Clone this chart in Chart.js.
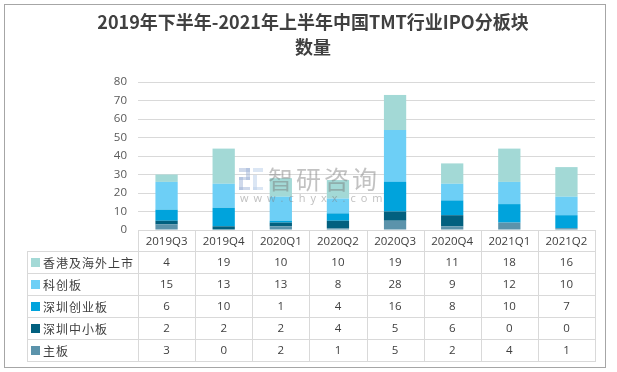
<!DOCTYPE html>
<html>
<head>
<meta charset="utf-8">
<script src="https://cdn.jsdelivr.net/npm/chart.js@4.4.1/dist/chart.umd.min.js"></script>
<style>
  html, body { margin: 0; padding: 0; background: #fff; }
  #wrap { width: 617px; height: 372px; }
</style>
</head>
<body>
<div id="wrap"><canvas id="ipoChart" width="617" height="372"></canvas></div>
<script>
  // data
  var quarters = ['2019Q3', '2019Q4', '2020Q1', '2020Q2', '2020Q3', '2020Q4', '2021Q1', '2021Q2'];
  var hkOverseas = [4, 19, 10, 10, 19, 11, 18, 16];   // 香港及海外上市
  var starMarket = [15, 13, 13, 8, 28, 9, 12, 10];    // 科创板
  var chinext = [6, 10, 1, 4, 16, 8, 10, 7];          // 深圳创业板
  var smeBoard = [2, 2, 2, 4, 5, 6, 0, 0];            // 深圳中小板
  var mainBoard = [3, 0, 2, 1, 5, 2, 4, 1];           // 主板
  var yTicks = [0, 10, 20, 30, 40, 50, 60, 70, 80];
  var titleLines = ['2019年下半年-2021年上半年中国TMT行业IPO分板块', '数量'];

  var cjk = '"Noto Sans CJK SC", sans-serif';
  var num = '"Open Sans", "Noto Sans CJK SC", sans-serif';

  // frame, title, data table and watermark
  var decorPlugin = {
    id: 'decor',
    beforeDraw: function (chart) {
      var ctx = chart.ctx;
      ctx.save();
      ctx.fillStyle = '#ffffff';
      ctx.fillRect(0, 0, chart.width, chart.height);
      ctx.strokeStyle = '#a6a6a6';
      ctx.lineWidth = 1;
      ctx.strokeRect(4.5, 4.5, 601, 363);
      ctx.restore();
    },
    afterDatasetsDraw: function (chart) {
      var ctx = chart.ctx;
      ctx.save();
      // logo block
      ctx.fillStyle = 'rgba(160,180,215,0.5)';
      ctx.fillRect(239, 168, 11, 4);
      ctx.fillRect(246, 168, 4, 12);
      ctx.fillRect(239, 177, 11, 3);
      ctx.fillRect(239, 177, 4, 13);
      ctx.fillRect(239, 187, 11, 3);
      ctx.fillStyle = 'rgba(190,210,235,0.55)';
      ctx.fillRect(253, 168, 10, 4);
      ctx.fillRect(253, 175, 4, 15);
      ctx.fillRect(253, 187, 10, 3);
      // watermark text
      ctx.fillStyle = 'rgba(120,120,120,0.45)';
      ctx.font = '25px ' + cjk;
      ctx.textBaseline = 'middle';
      ctx.textAlign = 'left';
      ctx.letterSpacing = '3px';
      ctx.fillText('智研咨询', 268, 179);
      ctx.font = '11px ' + num;
      ctx.letterSpacing = '5px';
      ctx.fillStyle = 'rgba(130,130,130,0.5)';
      ctx.fillText('www.chyxx.com', 240, 199);
      ctx.restore();
    },
    afterDraw: function (chart) {
      var ctx = chart.ctx;
      var area = chart.chartArea;
      var colW = (area.right - area.left) / quarters.length;
      var top = Math.round(area.bottom);
      var headH = 21, rowH = 22, legendLeft = 27;
      var bottom = top + headH + rowH * 5;
      ctx.save();

      // title
      ctx.fillStyle = '#404040';
      ctx.font = 'bold 18px ' + cjk;
      ctx.textAlign = 'center';
      ctx.textBaseline = 'middle';
      ctx.fillText(titleLines[0], 313, 22);
      ctx.fillText(titleLines[1], 313, 47);

      // table grid
      ctx.strokeStyle = '#d9d9d9';
      ctx.lineWidth = 1;
      ctx.beginPath();
      ctx.moveTo(area.left, top + 0.5);
      ctx.lineTo(area.right, top + 0.5);
      for (var r = 0; r <= 5; r++) {
        var y = top + headH + r * rowH + 0.5;
        ctx.moveTo(legendLeft, y);
        ctx.lineTo(area.right, y);
      }
      for (var i = 0; i <= quarters.length; i++) {
        var x = Math.round(area.left + i * colW) + 0.5;
        ctx.moveTo(x, top);
        ctx.lineTo(x, bottom + 1);
      }
      ctx.moveTo(legendLeft + 0.5, top + headH);
      ctx.lineTo(legendLeft + 0.5, bottom + 1);
      ctx.stroke();

      // header row
      var xs = chart.scales.x;
      ctx.fillStyle = '#404040';
      ctx.font = '11.5px ' + num;
      ctx.textAlign = 'center';
      quarters.forEach(function (q, i) {
        ctx.fillText(q, xs.getPixelForValue(i), top + headH / 2 + 1);
      });

      // body rows: top series first
      var rows = chart.data.datasets.slice().reverse();
      rows.forEach(function (ds, r) {
        var cy = top + headH + r * rowH + rowH / 2 + 1;
        ctx.fillStyle = ds.backgroundColor;
        ctx.fillRect(legendLeft + 4, cy - 5, 9, 9);
        ctx.fillStyle = '#404040';
        ctx.font = '12px ' + cjk;
        ctx.textAlign = 'left';
        ctx.letterSpacing = '1px';
        ctx.fillText(ds.label, legendLeft + 16, cy);
        ctx.letterSpacing = '0px';
        ctx.font = '11.5px ' + num;
        ctx.textAlign = 'center';
        ds.data.forEach(function (v, i) {
          ctx.fillText(String(v), xs.getPixelForValue(i), cy);
        });
      });
      ctx.restore();
    }
  };

  document.addEventListener('DOMContentLoaded', function () {
    var ctx = document.getElementById('ipoChart').getContext('2d');
    var ipoChart = new Chart(ctx, {
      type: 'bar',
      data: {
        labels: quarters,
        datasets: [
          { label: '主板', data: mainBoard, backgroundColor: '#5b93ab' },
          { label: '深圳中小板', data: smeBoard, backgroundColor: '#02607f' },
          { label: '深圳创业板', data: chinext, backgroundColor: '#00a3dc' },
          { label: '科创板', data: starMarket, backgroundColor: '#6dcff6' },
          { label: '香港及海外上市', data: hkOverseas, backgroundColor: '#a3d9d6' }
        ]
      },
      options: {
        responsive: false,
        animation: false,
        layout: { padding: { left: 0, right: 22, top: 82, bottom: 142 } },
        datasets: { bar: { categoryPercentage: 1, barPercentage: 0.39, borderWidth: 0 } },
        plugins: {
          legend: { display: false },
          title: { display: false },
          tooltip: { enabled: false }
        },
        scales: {
          x: { stacked: true, display: false },
          y: {
            stacked: true,
            min: 0,
            max: 80,
            afterBuildTicks: function (scale) {
              scale.ticks = yTicks.map(function (v) { return { value: v }; });
            },
            afterFit: function (scale) { scale.width = 138; },
            border: { display: false },
            grid: { color: '#d9d9d9', drawTicks: false },
            ticks: {
              padding: 11,
              color: '#595959',
              font: { family: 'Open Sans', size: 11.5 }
            }
          }
        }
      },
      plugins: [decorPlugin]
    });
  });
</script>
</body>
</html>
